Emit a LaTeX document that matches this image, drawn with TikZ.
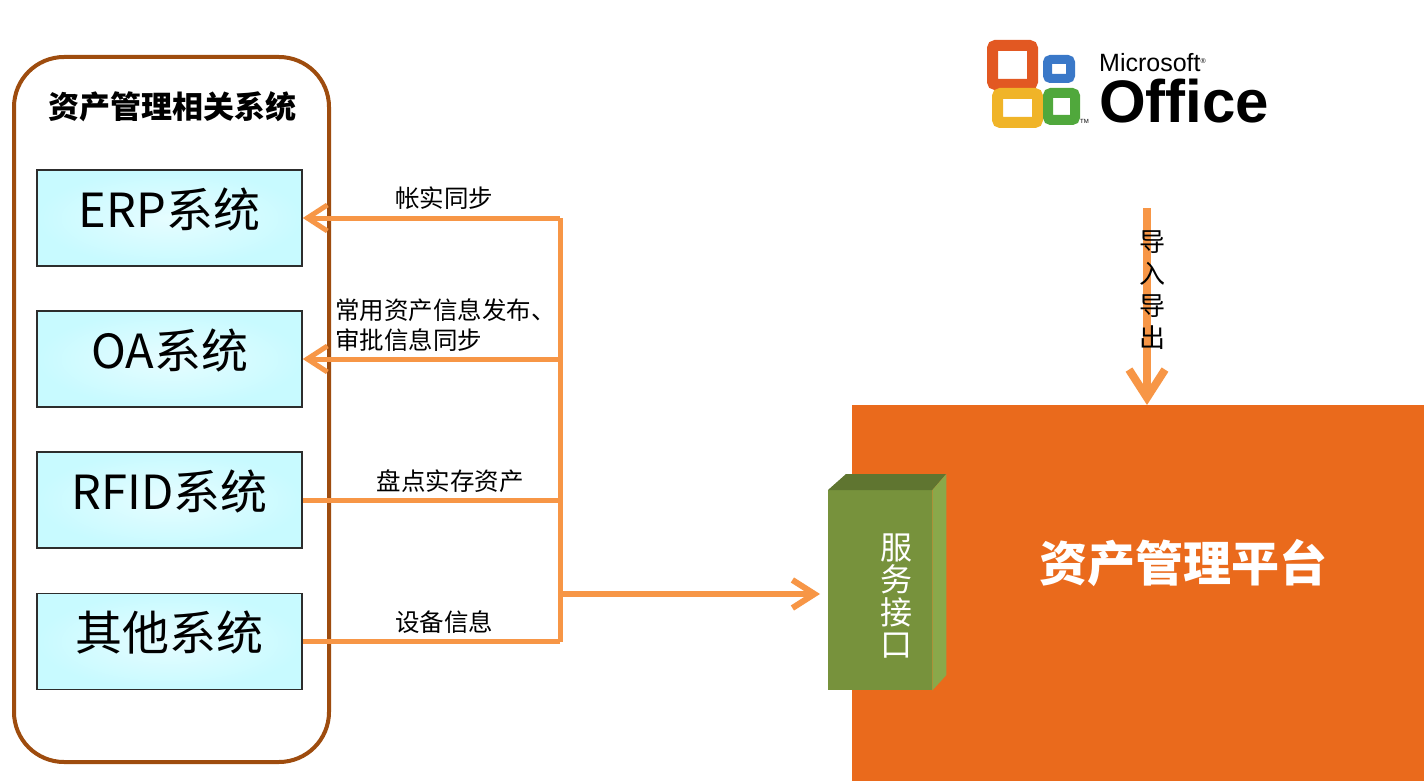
\documentclass[tikz,border=0pt]{standalone}
\usepackage{fontspec}
\setmainfont{Noto Sans CJK SC}
\newfontfamily\lat{Liberation Sans}
\usetikzlibrary{arrows.meta}
\definecolor{brownline}{RGB}{158,76,14}
\definecolor{conncol}{RGB}{247,150,70}
\definecolor{platcol}{RGB}{234,106,28}
\definecolor{gfront}{RGB}{119,146,60}
\definecolor{gtop}{RGB}{95,117,48}
\definecolor{gside}{RGB}{138,168,74}
\definecolor{cyanbox}{RGB}{200,250,255}
\definecolor{boxedge}{RGB}{45,45,45}
\definecolor{offred}{RGB}{226,88,34}
\definecolor{offblue}{RGB}{58,120,200}
\definecolor{offyellow}{RGB}{240,180,40}
\definecolor{offgreen}{RGB}{80,168,60}
\begin{document}
\begin{tikzpicture}[x=1pt,y=-1pt,
  panelbox/.style={draw=brownline, line width=4pt, rounded corners=50pt, minimum width=315pt, minimum height=705pt, inner sep=0pt},
  sysbox/.style={draw=boxedge, line width=1.5pt, minimum width=265pt, minimum height=96pt, inner sep=0pt,
     text height=32pt, text depth=14pt,
     inner color=white!55!cyanbox, outer color=cyanbox, font=\fontsize{47}{50}\selectfont},
  conn/.style={draw=conncol, line width=5pt},
  barb/.style={-{Straight Barb[length=20pt,width=26pt]}},
  lbl/.style={inner sep=0pt, font=\fontsize{24.5}{30}\selectfont},
]
\useasboundingbox (0,0) rectangle (1424,781);
\fill[white] (0,0) rectangle (1424,781);

% left panel
\node[panelbox] (panel) at (171.5,409.5) {};
\node[inner sep=0pt, font=\fontsize{31}{34}\selectfont\bfseries] (title) at (172,107) {资产管理相关系统};
\node[sysbox] (erp) at (169.5,218) {ERP系统};
\node[sysbox] (oa) at (169.5,359) {OA系统};
\node[sysbox] (rfid) at (169.5,500) {RFID系统};
\node[sysbox] (oth) at (169.5,641.5) {其他系统};

% platform
\node[fill=platcol, minimum width=572pt, minimum height=376pt, inner sep=0pt, anchor=north west] (plat) at (852,405) {};
\node[inner sep=0pt, text=white, font=\fontsize{48}{50}\selectfont\bfseries] (platlbl) at (1183,563) {资产管理平台};

% green interface cuboid
\node[fill=gfront, minimum width=104pt, minimum height=200pt, inner sep=0pt, anchor=north west] (iface) at (828,490) {};
\fill[gtop] (iface.north west) -- ++(18,-16) -- ++(100,0) -- (iface.north east) -- cycle;
\fill[gside] (iface.north east) -- ++(14,-16) -- ++(0,201) -- (iface.south east) -- cycle;
\node[inner sep=0pt, text=white, align=center, font=\fontsize{32}{32.5}\selectfont] (ifacelbl) at (896,596) {服\\务\\接\\口};

% connectors
\coordinate (bus) at (560,0);
\coordinate (mainy) at (0,594);
\draw[conn] (erp.east -| bus) -- (oth.east -| bus);
\draw[conn, barb] (erp.east -| bus) -- (erp.east);
\draw[conn, barb] (oa.east -| bus) -- (oa.east);
\draw[conn] (rfid.east) -- (rfid.east -| bus);
\draw[conn] (oth.east) -- (oth.east -| bus);
\draw[conn, line width=6pt, shorten >=8pt, -{Straight Barb[length=22pt,width=28pt]}] (bus |- mainy) -- (mainy -| iface.west);

\node[lbl] (l1) at (444,198) {帐实同步};
\node[lbl, align=left, anchor=west] (l2) at (335,325) {常用资产信息发布、\\审批信息同步};
\node[lbl] (l3) at (450,481) {盘点实存资产};
\node[lbl] (l4) at (444,622) {设备信息};

% office logo
\draw[offred, line width=11pt, rounded corners=3pt] (992.5,45.5) rectangle (1032.5,84.5);
\draw[offyellow, line width=11pt, rounded corners=3pt] (997.5,93.5) rectangle (1037.5,122.5);
\draw[offgreen, line width=10pt, rounded corners=3pt] (1048,93) rectangle (1075,120);
\draw[offblue, line width=9pt, rounded corners=3pt] (1047.5,59.5) rectangle (1070.5,78.5);
\node[inner sep=0pt, anchor=base west, font=\lat\fontsize{25}{25}\selectfont] (ms) at (1099,72) {Microsoft\raisebox{8pt}{\fontsize{7}{7}\selectfont®}};
\node[inner sep=0pt, anchor=base west, font=\lat\bfseries\fontsize{60}{60}\selectfont] (office) at (1099,123) {Office};
\node[inner sep=0pt, anchor=base west, font=\lat\fontsize{6}{6}\selectfont] (tm) at (1080,124) {TM};

% import/export arrow
\coordinate (dstart) at (1147,208);
\draw[conn, line width=8pt, -{Straight Barb[length=28pt,width=36pt]}] (dstart) -- (dstart |- plat.north);
\node[inner sep=0pt, align=center, font=\fontsize{26}{32}\selectfont] (io) at (1152,290) {导\\入\\导\\出};
\end{tikzpicture}
\end{document}
